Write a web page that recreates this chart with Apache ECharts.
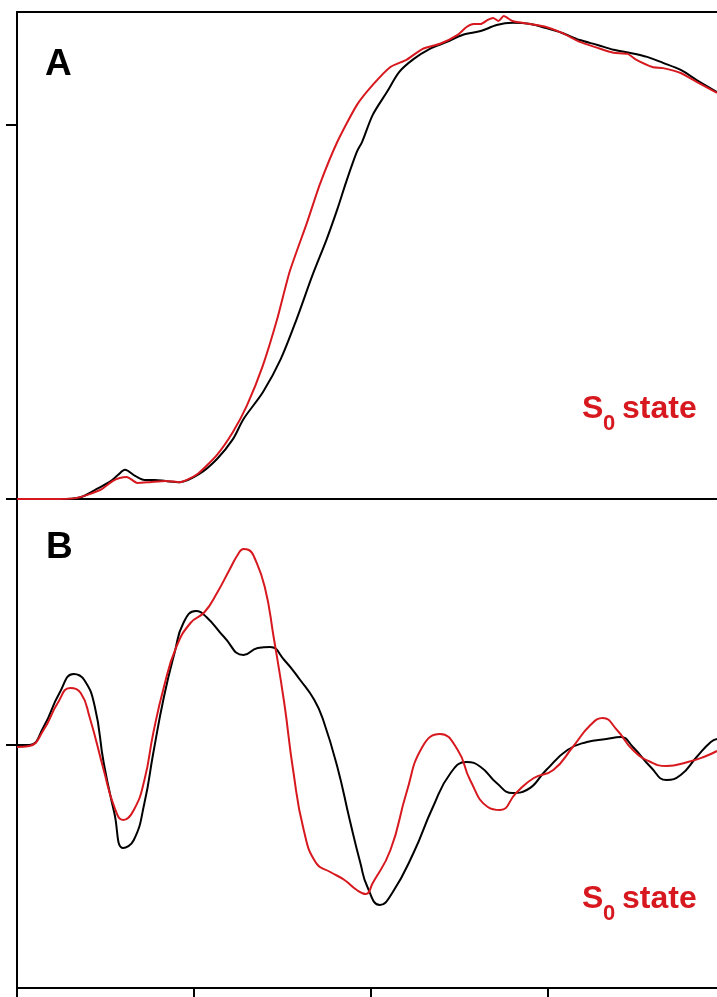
<!DOCTYPE html>
<html>
<head>
<meta charset="utf-8">
<script src="https://cdn.jsdelivr.net/npm/echarts@6/dist/echarts.min.js"></script>
<style>
  html, body { margin: 0; padding: 0; background: #fff; }
  #chart { width: 717px; height: 997px; }
</style>
</head>
<body>
<div id="chart"></div>
<script>
// Energy axis (eV) and tick positions
const energyMin = 6535;
const energyMax = 6574.55;
const energyTicks = [6535, 6545, 6555, 6565];

// Panel A: normalized absorption, reference spectrum (black)
const absBlackE = [6535.0, 6537.4, 6538.6, 6539.4, 6540.3, 6540.7, 6541.1, 6541.7, 6542.2, 6542.8, 6543.4, 6544.2, 6545.3, 6546.3, 6547.2, 6547.8, 6548.9, 6549.9, 6550.8, 6551.7, 6552.5, 6553.1, 6553.6, 6554.2, 6554.5, 6555.1, 6555.9, 6556.6, 6557.4, 6558.3, 6559.3, 6560.2, 6561.2, 6562.1, 6563.0, 6564.0, 6564.9, 6565.8, 6566.8, 6567.8, 6568.7, 6569.6, 6570.6, 6571.5, 6572.5, 6573.4, 6574.55];
const absBlack = [0, 0, 0.005, 0.024, 0.048, 0.064, 0.078, 0.061, 0.051, 0.051, 0.048, 0.045, 0.067, 0.107, 0.160, 0.214, 0.286, 0.374, 0.481, 0.599, 0.695, 0.775, 0.848, 0.928, 0.955, 1.027, 1.088, 1.142, 1.176, 1.203, 1.222, 1.241, 1.251, 1.267, 1.273, 1.270, 1.259, 1.246, 1.227, 1.214, 1.201, 1.193, 1.182, 1.166, 1.147, 1.120, 1.088];

// Panel A: normalized absorption, S0 state (red)
const absRedE = [6535.0, 6537.4, 6538.4, 6539.7, 6540.4, 6540.8, 6541.2, 6541.8, 6542.5, 6543.4, 6544.2, 6545.2, 6546.3, 6547.2, 6548.0, 6548.9, 6549.7, 6550.4, 6551.4, 6552.1, 6553.1, 6554.2, 6555.1, 6556.1, 6557.0, 6557.9, 6558.9, 6559.9, 6560.4, 6560.8, 6561.2, 6561.6, 6561.9, 6562.2, 6562.5, 6563.0, 6564.0, 6564.9, 6565.8, 6566.8, 6567.8, 6568.7, 6569.5, 6570.0, 6570.9, 6571.5, 6572.5, 6573.4, 6574.55];
const absRed = [0, 0, 0.003, 0.024, 0.048, 0.056, 0.059, 0.043, 0.045, 0.048, 0.045, 0.067, 0.118, 0.179, 0.251, 0.358, 0.481, 0.607, 0.741, 0.840, 0.955, 1.053, 1.107, 1.155, 1.174, 1.203, 1.217, 1.241, 1.262, 1.270, 1.270, 1.281, 1.286, 1.278, 1.291, 1.278, 1.270, 1.262, 1.246, 1.222, 1.206, 1.193, 1.190, 1.174, 1.155, 1.152, 1.139, 1.115, 1.086];

// Panel B: first derivative, reference spectrum (black)
const derBlackE = [6535.0, 6535.7, 6536.5, 6537.4, 6538.2, 6538.8, 6539.4, 6539.9, 6540.5, 6541.0, 6541.6, 6542.2, 6542.7, 6543.3, 6543.9, 6544.4, 6545.1, 6545.7, 6546.7, 6547.8, 6548.6, 6549.3, 6550.1, 6551.0, 6551.8, 6552.3, 6553.1, 6553.8, 6554.4, 6554.8, 6555.5, 6556.2, 6557.4, 6558.5, 6559.5, 6560.4, 6561.2, 6562.1, 6563.0, 6563.8, 6564.9, 6566.1, 6567.2, 6568.3, 6569.1, 6569.8, 6570.8, 6571.7, 6572.5, 6573.4, 6574.2, 6574.55];
const derBlack = [0, 0, 0.18, 0.52, 0.71, 0.65, 0.38, -0.18, -0.68, -1.03, -0.95, -0.58, -0.08, 0.48, 0.92, 1.22, 1.34, 1.28, 1.08, 0.90, 0.97, 0.98, 0.85, 0.65, 0.45, 0.25, -0.22, -0.75, -1.18, -1.42, -1.60, -1.48, -1.08, -0.62, -0.28, -0.17, -0.22, -0.38, -0.48, -0.45, -0.25, -0.05, 0.03, 0.06, 0.08, -0.02, -0.22, -0.35, -0.30, -0.12, 0.03, 0.06];

// Panel B: first derivative, S0 state (red)
const derRedE = [6535.0, 6535.7, 6536.5, 6537.3, 6538.0, 6538.6, 6539.1, 6539.9, 6540.5, 6541.0, 6541.6, 6542.2, 6542.7, 6543.3, 6544.0, 6544.8, 6545.6, 6546.3, 6547.0, 6547.5, 6547.8, 6548.1, 6548.4, 6549.0, 6549.5, 6550.1, 6550.6, 6551.2, 6551.9, 6552.7, 6553.5, 6554.2, 6554.7, 6555.1, 6556.1, 6557.0, 6557.9, 6558.9, 6559.9, 6560.6, 6561.6, 6562.3, 6563.2, 6564.2, 6565.3, 6566.4, 6567.4, 6568.1, 6568.9, 6569.8, 6570.8, 6571.7, 6572.9, 6573.8, 6574.55];
const derRed = [-0.02, -0.01, 0.15, 0.42, 0.57, 0.52, 0.28, -0.25, -0.62, -0.75, -0.65, -0.35, 0.12, 0.58, 0.98, 1.22, 1.33, 1.52, 1.75, 1.91, 1.96, 1.95, 1.88, 1.58, 1.08, 0.42, -0.25, -0.85, -1.18, -1.27, -1.35, -1.45, -1.49, -1.38, -1.05, -0.48, -0.02, 0.11, -0.05, -0.35, -0.62, -0.65, -0.48, -0.33, -0.25, -0.02, 0.20, 0.27, 0.15, -0.05, -0.17, -0.21, -0.17, -0.12, -0.06];

const RED = '#d7191f';
const FONT = '"Liberation Sans", Arial, sans-serif';

function pairs(xs, ys) { return xs.map((x, i) => [x, ys[i]]); }

const axisLine = { show: true, onZero: false, lineStyle: { color: '#000', width: 2 } };
const noLabel = { show: false };
const noSplit = { show: false };

const chart = echarts.init(document.getElementById('chart'), null, { renderer: 'canvas' });

function lineSeries(name, xi, yi, data, color, smooth) {
  return {
    name, type: 'line', xAxisIndex: xi, yAxisIndex: yi, data,
    showSymbol: false, symbol: 'none', smooth,
    lineStyle: { color, width: 2 }, animation: false, z: color === RED ? 3 : 2
  };
}

function label(text, x, y, size, color) {
  return {
    type: 'text', left: x, top: y, z: 10,
    style: { text, fontFamily: FONT, fontWeight: 'bold', fontSize: size, fill: color }
  };
}

chart.setOption({
  animation: false,
  grid: [
    { left: 17, top: 12, right: 0, height: 487 },
    { left: 17, top: 499, right: 0, height: 489 }
  ],
  xAxis: [
    { type: 'value', gridIndex: 0, min: energyMin, max: energyMax, position: 'bottom',
      axisLine, axisTick: { show: false }, axisLabel: noLabel, splitLine: noSplit },
    { type: 'value', gridIndex: 0, min: energyMin, max: energyMax, position: 'top',
      axisLine, axisTick: { show: false }, axisLabel: noLabel, splitLine: noSplit },
    { type: 'value', gridIndex: 1, min: energyMin, max: energyMax, position: 'bottom',
      axisLine,
      axisTick: { show: true, inside: false, length: 9, customValues: energyTicks, lineStyle: { color: '#000', width: 2 } },
      axisLabel: noLabel, splitLine: noSplit }
  ],
  yAxis: [
    { type: 'value', gridIndex: 0, min: 0, max: 1.302, axisLine,
      axisTick: { show: true, inside: false, length: 11, customValues: [0, 1], lineStyle: { color: '#000', width: 2 } },
      axisLabel: noLabel, splitLine: noSplit },
    { type: 'value', gridIndex: 1, min: -2.43, max: 2.46, axisLine,
      axisTick: { show: true, inside: false, length: 11, customValues: [0], lineStyle: { color: '#000', width: 2 } },
      axisLabel: noLabel, splitLine: noSplit }
  ],
  series: [
    lineSeries('reference', 0, 0, pairs(absBlackE, absBlack), '#000', 0.3),
    lineSeries('S0', 0, 0, pairs(absRedE, absRed), RED, 0.2),
    lineSeries('reference derivative', 2, 1, pairs(derBlackE, derBlack), '#000', 0.5),
    lineSeries('S0 derivative', 2, 1, pairs(derRedE, derRed), RED, 0.5)
  ],
  graphic: [
    label('A', 45, 46, 37, '#000'),
    label('B', 46, 529, 37, '#000'),
    label('S', 582, 393, 32, RED),
    label('0', 603, 413, 22, RED),
    label('state', 622, 393, 32, RED),
    label('S', 582, 883, 32, RED),
    label('0', 603, 903, 22, RED),
    label('state', 622, 883, 32, RED)
  ]
});
</script>
</body>
</html>
